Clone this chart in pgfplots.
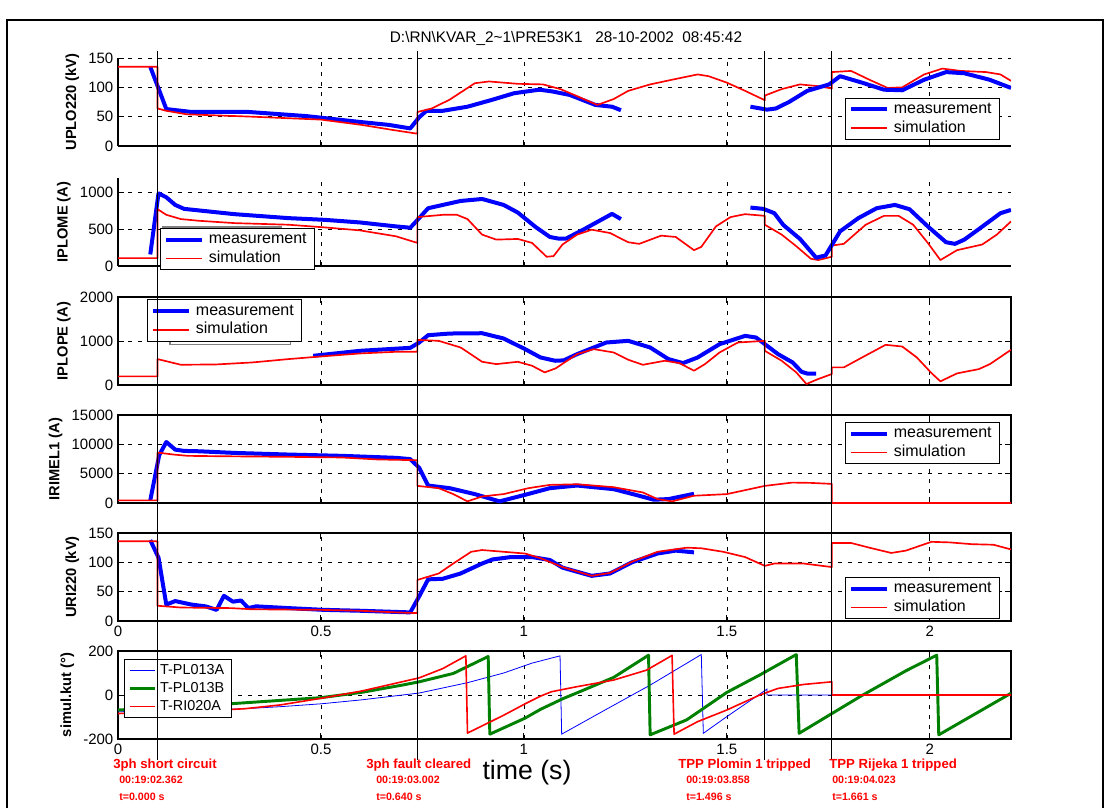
\documentclass[border=0pt]{standalone}
\usepackage{pgfplots}
\pgfplotsset{compat=1.18}
\usepackage{fontspec}
\setmainfont{Liberation Sans}
\definecolor{mblue}{RGB}{0,0,255}
\definecolor{mred}{RGB}{255,0,0}
\definecolor{mgreen}{RGB}{0,128,0}
\pgfplotsset{
  panel/.style={
    scale only axis, width=669.75pt, height=66pt,
    anchor=north west,
    xmin=0, xmax=2.2,
    xtick={0,0.5,1,1.5,2},
    scaled y ticks=false, scaled x ticks=false,
    grid=major,
    major grid style={black, line width=0.5pt, dash pattern=on 3pt off 4.5pt},
    tick align=inside,
    major tick length=4.5pt,
    axis line style={black, line width=1pt, -},
    every tick/.style={black, line width=0.7pt},
    tick label style={font=\fontsize{11.25}{13}\selectfont},
    /pgf/number format/assume math mode=true,
    /pgf/number format/1000 sep={},
    label style={font=\bfseries\fontsize{11}{13}\selectfont},
    legend cell align=left,
    legend style={draw=black, line width=0.7pt, fill=white, anchor=north west,
      font=\fontsize{12}{14}\selectfont, inner xsep=2.5pt, inner ysep=1.5pt,
      nodes={inner xsep=3.5pt, inner ysep=1.5pt, text height=8.5pt, text depth=2.5pt}},
    legend image code/.code={\draw[##1] (0pt,0pt) -- (27pt,0pt);},
  },
  meas/.style={mblue, line width=3pt, line join=round},
  sim/.style={mred, line width=1.25pt, line join=round},
}
\begin{document}
\begin{tikzpicture}
\path[use as bounding box] (0,0) rectangle (834pt,-606pt);
% frame
\draw[black, line width=1.2pt] (5.25pt,-606pt) -- (5.25pt,-15pt) -- (827.25pt,-15pt) -- (827.25pt,-606pt);
\node[font=\fontsize{11.5}{13}\selectfont] at (424.5pt,-28.5pt)
  {D:\textbackslash RN\textbackslash KVAR\_2\textasciitilde 1\textbackslash PRE53K1\ \ \ 28-10-2002\ \ 08:45:42};

% ---------- panel 1 ----------
\begin{axis}[panel, at={(88.5pt,-43.5pt)},
  axis x line*=bottom, axis y line*=left,
  ymin=0, ymax=150, ytick={0,50,100,150}, xticklabels={},
  ylabel={UPLO220 (kV)},
  legend style={at={(0.8145,0.55)}}]
\addplot[meas] coordinates {(0.0795,135) (0.119,63) (0.181,58) (0.322,58) (0.464,51) (0.596,41) (0.667,36) (0.72,30) (0.742,49) (0.76,60) (0.8,60) (0.861,67) (0.923,79) (0.976,90) (1.038,96) (1.07,93) (1.113,87) (1.176,70) (1.217,67) (1.239,61)};
\addplot[sim] coordinates {(0,135) (0.0975,135) (0.0975,64) (0.119,60) (0.17,54) (0.33,50) (0.5,45) (0.6,36) (0.68,27) (0.7375,21) (0.7375,58) (0.773,64) (0.817,79) (0.879,107) (0.914,110) (0.985,106) (1.047,105) (1.09,97) (1.131,85) (1.181,70) (1.221,80) (1.257,94) (1.311,105) (1.365,113) (1.428,122) (1.455,119) (1.5,108) (1.545,94) (1.5935,78) (1.5935,86) (1.635,97) (1.68,105) (1.725,102) (1.7585,98) (1.7585,126) (1.806,128) (1.851,113) (1.896,99) (1.932,100) (1.986,122) (2.031,132) (2.076,128) (2.139,126) (2.174,122) (2.2,111)};
\addplot[meas, forget plot] coordinates {(1.558,67) (1.599,62) (1.621,64) (1.653,75) (1.698,94) (1.752,105) (1.779,119) (1.833,108) (1.887,96) (1.932,95) (1.986,113) (2.04,126) (2.085,124) (2.147,113) (2.2,99)};
\legend{measurement, simulation}
\coordinate (e1) at (axis cs:0.0975,0);
\coordinate (e2) at (axis cs:0.7375,0);
\coordinate (e3) at (axis cs:1.5935,0);
\coordinate (e4) at (axis cs:1.7585,0);
\end{axis}

% ---------- panel 2 ----------
\begin{axis}[panel, at={(88.5pt,-133.5pt)},
  axis x line*=bottom, axis y line*=left,
  ymin=0, ymax=1200, ytick={0,500,1000}, xticklabels={},
  ylabel={IPLOME (A)},
  legend style={at={(0.0474,0.432)}}]
\addplot[meas] coordinates {(0.0795,158) (0.0998,991) (0.119,937) (0.141,833) (0.163,779) (0.225,743) (0.287,707) (0.42,653) (0.508,630) (0.596,594) (0.685,540) (0.72,522) (0.742,653) (0.764,788) (0.844,887) (0.897,914) (0.95,833) (0.985,729) (1.029,531) (1.064,396) (1.085,374) (1.104,374) (1.149,504) (1.217,711) (1.239,640)};
\addplot[sim] coordinates {(0,108) (0.0975,108) (0.0975,775) (0.119,698) (0.155,640) (0.199,617) (0.287,585) (0.42,563) (0.508,527) (0.596,486) (0.685,405) (0.7375,315) (0.7375,667) (0.8,698) (0.835,698) (0.861,640) (0.897,428) (0.932,360) (0.985,369) (1.02,315) (1.056,126) (1.073,135) (1.095,293) (1.131,428) (1.167,495) (1.212,450) (1.257,324) (1.284,302) (1.338,414) (1.374,396) (1.419,216) (1.437,261) (1.473,540) (1.509,667) (1.545,707) (1.5935,684) (1.5935,563) (1.635,428) (1.671,270) (1.707,99) (1.725,81) (1.7585,126) (1.7585,279) (1.788,302) (1.842,563) (1.887,684) (1.923,684) (1.959,563) (1.995,315) (2.026,81) (2.067,216) (2.129,293) (2.165,428) (2.2,608)};
\addplot[meas, forget plot] coordinates {(1.558,797) (1.59,779) (1.617,720) (1.639,560) (1.68,370) (1.72,113) (1.743,144) (1.779,473) (1.824,653) (1.869,788) (1.914,833) (1.95,774) (1.995,540) (2.04,324) (2.062,302) (2.085,360) (2.121,504) (2.174,720) (2.2,765)};
\draw[gray, line width=1.1pt] (rel axis cs:0.050,0.2) rectangle (rel axis cs:0.1825,0.445);
\legend{measurement, simulation}
\end{axis}

% ---------- panel 3 ----------
\begin{axis}[panel, at={(88.5pt,-222.75pt)},
  ymin=0, ymax=2000, ytick={0,1000,2000}, xticklabels={},
  ylabel={IPLOPE (A)},
  legend style={at={(0.033,0.974)}}]
\addplot[meas] coordinates {(0.481,664) (0.596,777) (0.72,845) (0.742,966) (0.764,1132) (0.817,1170) (0.897,1177) (0.95,1057) (1.003,815) (1.041,626) (1.077,551) (1.098,560) (1.131,702) (1.203,966) (1.257,1004) (1.311,853) (1.356,589) (1.392,498) (1.428,626) (1.482,928) (1.545,1117) (1.572,1079) (1.599,891) (1.626,702) (1.662,513) (1.684,300) (1.698,260) (1.72,257)};
\addplot[sim] coordinates {(0,196) (0.0975,196) (0.0975,589) (0.155,460) (0.243,468) (0.331,513) (0.42,589) (0.5,649) (0.596,717) (0.685,755) (0.7375,755) (0.7375,1026) (0.79,1004) (0.844,853) (0.897,528) (0.932,475) (0.985,528) (1.02,438) (1.051,287) (1.078,377) (1.131,702) (1.172,815) (1.221,740) (1.257,574) (1.293,460) (1.347,551) (1.383,498) (1.419,325) (1.446,475) (1.482,740) (1.527,966) (1.5935,1004) (1.5935,777) (1.635,551) (1.671,287) (1.696,23) (1.725,136) (1.7585,249) (1.7585,400) (1.788,400) (1.833,626) (1.891,913) (1.932,875) (1.968,626) (2.004,272) (2.026,83) (2.067,264) (2.121,362) (2.148,475) (2.2,800)};
\draw[gray, line width=1.1pt] (rel axis cs:0.058,0.8) rectangle (rel axis cs:0.193,0.46);
\legend{measurement, simulation}
\end{axis}

% ---------- panel 4 ----------
\begin{axis}[panel, at={(88.5pt,-311.25pt)},
  ymin=0, ymax=15000, ytick={0,5000,10000,15000}, xticklabels={},
  ylabel={IRIMEL1 (A)},
  legend style={at={(0.8145,0.92)}}]
\addplot[meas] coordinates {(0.0795,450) (0.1015,8150) (0.119,10400) (0.141,9100) (0.163,8880) (0.199,8820) (0.287,8540) (0.42,8260) (0.552,8040) (0.685,7700) (0.72,7480) (0.742,6010) (0.764,2980) (0.817,2530) (0.879,1520) (0.94,280) (1.003,1400) (1.064,2530) (1.131,2980) (1.221,2360) (1.275,1400) (1.32,560) (1.356,670) (1.419,1570)};
\addplot[sim] coordinates {(0,450) (0.0975,450) (0.0975,8600) (0.137,8260) (0.172,8040) (0.243,7980) (0.42,7870) (0.552,7760) (0.64,7420) (0.7375,7300) (0.7375,2920) (0.79,2530) (0.826,1520) (0.861,280) (0.897,1120) (0.95,1520) (1.011,2530) (1.064,3090) (1.131,3200) (1.221,2700) (1.293,1800) (1.329,670) (1.365,280) (1.419,1240) (1.5,1520) (1.5935,2920) (1.661,3480) (1.707,3430) (1.7585,3260) (1.7585,0) (2.2,0)};
\legend{measurement, simulation}
\end{axis}

% ---------- panel 5 ----------
\begin{axis}[panel, at={(88.5pt,-399.75pt)},
  ymin=0, ymax=150, ytick={0,50,100,150},
  ylabel={URI220 (kV)},
  legend style={at={(0.8145,0.5)}}]
\addplot[meas] coordinates {(0.0795,138) (0.0998,108) (0.119,28) (0.141,34) (0.181,28) (0.216,25) (0.243,19) (0.261,43) (0.283,33) (0.303,35) (0.321,22) (0.34,25) (0.42,22) (0.508,19) (0.596,17.5) (0.72,14.7) (0.742,42) (0.764,71) (0.8,72) (0.844,81) (0.897,98) (0.923,105) (0.968,109) (1.02,109) (1.064,104) (1.095,91) (1.167,77) (1.212,81) (1.266,100) (1.329,115) (1.374,120) (1.419,117)};
\addplot[sim] coordinates {(0,136) (0.0975,136) (0.0975,26) (0.155,23) (0.278,22) (0.331,20) (0.5,19) (0.596,17.5) (0.685,14.7) (0.7375,13.5) (0.7375,70) (0.79,81) (0.826,98) (0.87,118) (0.897,121) (0.95,118) (1.003,115) (1.041,107) (1.095,92) (1.167,77) (1.212,82) (1.266,101) (1.329,118) (1.401,125) (1.437,124) (1.491,118) (1.545,109) (1.5935,94) (1.617,98) (1.689,98) (1.7585,92) (1.7585,133) (1.806,133) (1.851,125) (1.905,116) (1.941,120) (2.004,135) (2.049,134) (2.103,131) (2.157,130) (2.2,122)};
\legend{measurement, simulation}
\end{axis}

% ---------- panel 6 ----------
\begin{axis}[panel, at={(88.5pt,-488.25pt)},
  ymin=-200, ymax=200, ytick={-200,0,200},
  ylabel={simul.kut (\textdegree)},
  legend style={at={(0.0072,0.907)}, font=\fontsize{10.8}{13}\selectfont,
    nodes={inner xsep=3pt, inner ysep=1.5pt, text height=8pt, text depth=2.5pt}},
  legend image code/.code={\draw[#1] (0pt,0pt) -- (18.75pt,0pt);}]
\addplot[mblue, line width=0.6pt] coordinates {(0,-76) (0.1,-73) (0.2,-69) (0.314,-62) (0.4,-53) (0.5,-40) (0.6,-22) (0.742,9) (0.861,56) (0.95,100) (1.02,145) (1.089,178) (1.093,-178) (1.2,-68) (1.311,45) (1.437,184) (1.442,-174) (1.5,-98) (1.599,27) (1.599,0) (2.2,0)};
\addplot[mgreen, line width=2.2pt, line join=round] coordinates {(0,-68) (0.155,-55) (0.331,-33) (0.5,-12) (0.6,12) (0.7,45) (0.742,60) (0.826,98) (0.912,175) (0.916,-178) (1.003,-105) (1.041,-65) (1.098,-15) (1.131,10) (1.221,80) (1.307,181) (1.311,-181) (1.401,-113) (1.5,12) (1.581,91) (1.671,184) (1.678,-174) (1.758,-85) (1.833,-2) (1.941,110) (2.017,181) (2.022,-181) (2.2,8)};
\addplot[mred, line width=1.2pt, line join=round] coordinates {(0,-84) (0.1,-80) (0.2,-74) (0.314,-62) (0.4,-45) (0.5,-15) (0.6,18) (0.742,78) (0.8,120) (0.857,178) (0.861,-173) (0.95,-92) (1.003,-40) (1.041,-5) (1.068,15) (1.131,38) (1.221,68) (1.302,113) (1.365,180) (1.370,-178) (1.428,-121) (1.5,-68) (1.581,0) (1.626,30) (1.689,48) (1.7585,60) (1.7585,0) (2.2,0)};
\legend{T-PL013A, T-PL013B, T-RI020A}
\end{axis}

% event lines
\foreach \c in {e1,e2,e3,e4}
  \draw[black, line width=0.6pt] (\c |- 0,-38pt) -- (\c |- 0,-570pt);

\node[font=\fontsize{20}{24}\selectfont] at (395.25pt,-579.75pt) {time (s)};

\begin{scope}[every node/.style={anchor=west, inner sep=0pt, text=mred}]
\node[font=\bfseries\fontsize{9.9}{11}\selectfont] at (84.75pt,-573.75pt) {3ph short circuit};
\node[font=\bfseries\fontsize{8}{9}\selectfont] at (89.25pt,-585pt) {00:19:02.362};
\node[font=\bfseries\fontsize{8}{9}\selectfont] at (89.25pt,-597.75pt) {t=0.000 s};
\node[font=\bfseries\fontsize{9.9}{11}\selectfont] at (274.5pt,-573.75pt) {3ph fault cleared};
\node[font=\bfseries\fontsize{8}{9}\selectfont] at (282pt,-585pt) {00:19:03.002};
\node[font=\bfseries\fontsize{8}{9}\selectfont] at (282pt,-597.75pt) {t=0.640 s};
\node[font=\bfseries\fontsize{9.9}{11}\selectfont] at (508.5pt,-573.75pt) {TPP Plomin 1 tripped};
\node[font=\bfseries\fontsize{8}{9}\selectfont] at (514.5pt,-585pt) {00:19:03.858};
\node[font=\bfseries\fontsize{8}{9}\selectfont] at (514.5pt,-597.75pt) {t=1.496 s};
\node[font=\bfseries\fontsize{9.9}{11}\selectfont] at (621.75pt,-573.75pt) {TPP Rijeka 1 tripped};
\node[font=\bfseries\fontsize{8}{9}\selectfont] at (624pt,-585pt) {00:19:04.023};
\node[font=\bfseries\fontsize{8}{9}\selectfont] at (624pt,-597.75pt) {t=1.661 s};
\end{scope}
\end{tikzpicture}
\end{document}
